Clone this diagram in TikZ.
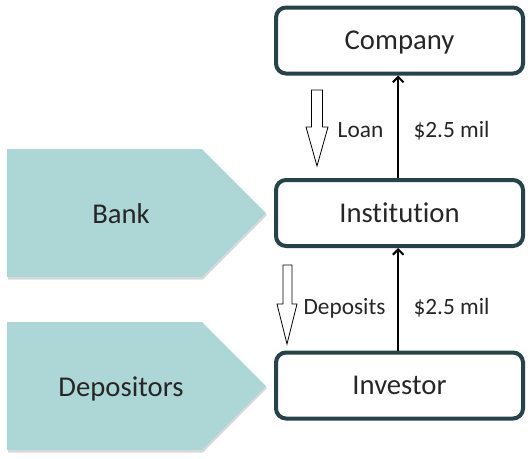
\documentclass[tikz,border=0pt]{standalone}
\usepackage{fontspec}
\setmainfont[Ligatures=NoCommon]{Carlito}
\usetikzlibrary{arrows.meta}
\definecolor{boxline}{RGB}{37,67,73}
\definecolor{tealfill}{RGB}{173,214,214}
\definecolor{txt}{RGB}{38,38,38}

\begin{document}
\begin{tikzpicture}[x=0.75pt,y=0.75pt,yscale=-1,xscale=1,
	box/.style={draw=boxline, line width=3pt, rounded corners=7.5pt, minimum width=185.25pt, minimum height=49.5pt, text=txt, font=\fontsize{21.5}{24}\selectfont, text height=13.8pt, text depth=0pt},
	lbl/.style={text=txt, font=\fontsize{17.5}{20}\selectfont, inner sep=0.75pt, text height=11.2pt, text depth=0pt},
	big/.style={text=txt, font=\fontsize{21.5}{24}\selectfont, inner sep=0.75pt, text height=13.8pt, text depth=0pt}]
	\useasboundingbox (0,0) rectangle (530,458);
	
	%Shape: Pentagon shadows
	\fill [black, opacity=0.15] (8,151) -- (203,151) -- (267,215) -- (203,279.5) -- (8,279.5) -- cycle ;
	\fill [black, opacity=0.15] (8,324) -- (203,324) -- (267,388) -- (203,452.5) -- (8,452.5) -- cycle ;
	%Shape: Pentagon [Bank]
	\fill [tealfill] (7,149) -- (202,149) -- (266,213) -- (202,277) -- (7,277) -- cycle ;
	%Shape: Pentagon [Depositors]
	\fill [tealfill] (7,322) -- (202,322) -- (266,386) -- (202,450) -- (7,450) -- cycle ;
	
	% Boxes
	\node [box] (comp) at (399.5,40.5) {Company};
	\node [box] (inst) at (399.5,213) {Institution};
	\node [box] (inv) at (399.5,385.5) {Investor};
	
	% Text Node
	\node [big] (bank) at (121,214) {Bank};
	% Text Node
	\node [big] (dep) at (121,387) {Depositors};
	
	%Straight Lines
	\draw [line width=1.5pt, -{Straight Barb[length=4pt,width=8pt]}] ([xshift=-1pt]inst.north) -- ([xshift=-1pt]comp.south) ;
	\draw [line width=1.5pt, -{Straight Barb[length=4pt,width=8pt]}] ([xshift=-1pt]inv.north) -- ([xshift=-1pt]inst.south) ;
	
	%Shape: Down Arrow [Loan]
	\draw [fill=white, line width=0.6pt] (311.5,90) -- (322.5,90) -- (322.5,127) -- (328,127) -- (317,166) -- (306,127) -- (311.5,127) -- cycle ;
	%Shape: Down Arrow [Deposits]
	\draw [fill=white, line width=0.6pt] (283,265) -- (292,265) -- (292,304) -- (297,304) -- (287,344) -- (277,304) -- (283,304) -- cycle ;
	
	% Text Node
	\node [lbl] (loan) at (360.5,130) {Loan};
	% Text Node
	\node [lbl] (amt1) at (451.5,130) {\$2.5 mil};
	% Text Node
	\node [lbl] (deps) at (344.5,307) {Deposits};
	% Text Node
	\node [lbl] (amt2) at (451.5,307) {\$2.5 mil};
\end{tikzpicture}
\end{document}
